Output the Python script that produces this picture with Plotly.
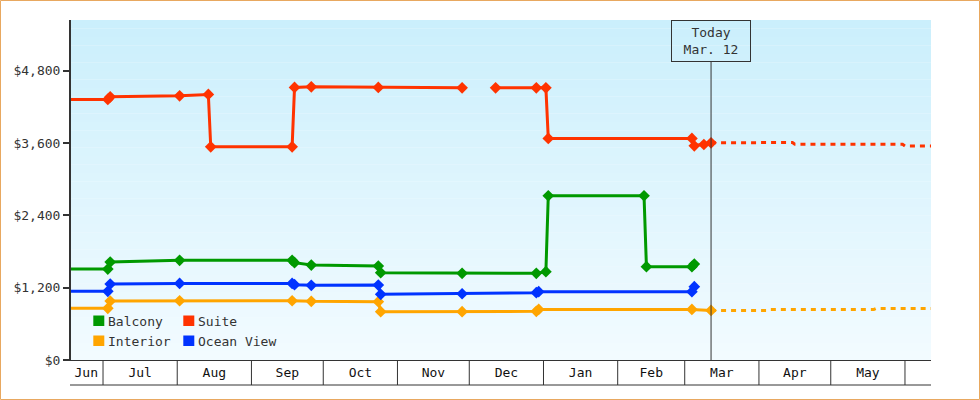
import plotly.graph_objects as go

# ---------------- data ----------------
x_start = "2012-06-17 15:00"
x_end = "2013-06-11 21:00"
y_top = 5640
today = "2013-03-12"

y_ticks = [0, 1200, 2400, 3600, 4800]
y_tick_labels = ["$0", "$1,200", "$2,400", "$3,600", "$4,800"]

month_starts = ["2012-07-01", "2012-08-01", "2012-09-01", "2012-10-01", "2012-11-01",
                "2012-12-01", "2013-01-01", "2013-02-01", "2013-03-01", "2013-04-01",
                "2013-05-01", "2013-06-01"]
month_labels = ["Jun", "Jul", "Aug", "Sep", "Oct", "Nov", "Dec", "Jan", "Feb", "Mar", "Apr", "May"]
month_label_dates = ["2012-06-24", "2012-07-16 12:00", "2012-08-16 12:00", "2012-09-16", "2012-10-16 12:00",
                     "2012-11-16", "2012-12-16 12:00", "2013-01-16 12:00", "2013-02-15", "2013-03-16 12:00",
                     "2013-04-16", "2013-05-16 12:00"]

suite_dates = ["2012-06-17", "2012-07-03", "2012-07-04", "2012-08-02", "2012-08-14", "2012-08-15",
               "2012-09-18", "2012-09-19", "2012-09-26", "2012-10-24", "2012-11-28", "2012-12-05",
               "2012-12-12", "2012-12-29", "2013-01-02", "2013-01-03", "2013-03-04", "2013-03-05",
               "2013-03-09", "2013-03-12"]
suite_prices = [4322, 4322, 4366, 4382, 4405, 3537,
                3537, 4521, 4531, 4521, 4515, None,
                4515, 4515, 4515, 3675, 3675, 3553,
                3575, 3603]

balcony_dates = ["2012-06-17", "2012-07-03", "2012-07-04", "2012-08-02", "2012-09-18", "2012-09-19",
                 "2012-09-26", "2012-10-24", "2012-10-25", "2012-11-28", "2012-12-29", "2013-01-02",
                 "2013-01-03", "2013-02-12", "2013-02-13", "2013-03-04", "2013-03-05"]
balcony_prices = [1509, 1509, 1625, 1653, 1653, 1614,
                  1575, 1559, 1448, 1437, 1437, 1465,
                  2725, 2725, 1548, 1548, 1592]

ocean_dates = ["2012-06-17", "2012-07-03", "2012-07-04", "2012-08-02", "2012-09-18", "2012-09-19",
               "2012-09-26", "2012-10-24", "2012-10-25", "2012-11-28", "2012-12-29", "2012-12-30",
               "2013-03-04", "2013-03-05"]
ocean_prices = [1139, 1139, 1260, 1271, 1271, 1250,
                1238, 1243, 1089, 1099, 1116, 1133,
                1133, 1216]

interior_dates = ["2012-06-17", "2012-07-03", "2012-07-04", "2012-08-02", "2012-09-18", "2012-09-26",
                  "2012-10-24", "2012-10-25", "2012-11-28", "2012-12-29", "2012-12-30", "2013-03-04",
                  "2013-03-12"]
interior_prices = [857, 857, 978, 983, 983, 973,
                   967, 801, 801, 807, 839, 839,
                   822]

suite_fc_dates = ["2013-03-12", "2013-04-15", "2013-04-16", "2013-05-31", "2013-06-01", "2013-06-11 21:00"]
suite_fc_prices = [3603, 3608, 3578, 3578, 3550, 3550]

interior_fc_dates = ["2013-03-12", "2013-04-04", "2013-04-05", "2013-05-19", "2013-05-20", "2013-06-11 21:00"]
interior_fc_prices = [822, 822, 839, 839, 856, 856]

legend_names = ["Balcony", "Suite", "Interior", "Ocean View"]

# ---------------- style ----------------
C_SUITE = "#ff3300"
C_BALC = "#009900"
C_OCEAN = "#0033ff"
C_INT = "#ffa500"
AX = "#333333"
FONT = "DejaVu Sans Mono"
W, H = 980, 400
ML, MR, MT, MB = 71, 49, 20, 40
PW, PH = W - ML - MR, H - MT - MB


def px_x(px):
    return (px - ML) / PW


def px_y(py):
    return (H - MB - py) / PH


fig = go.Figure()


def solid(dates, prices, color):
    fig.add_trace(go.Scatter(
        x=dates, y=prices, mode="lines+markers", connectgaps=False,
        line=dict(color=color, width=3),
        marker=dict(symbol="diamond", size=9, color=color),
        cliponaxis=False, showlegend=False, hoverinfo="x+y"))


def dashed(dates, prices, color):
    fig.add_trace(go.Scatter(
        x=dates, y=prices, mode="lines",
        line=dict(color=color, width=3, dash="5px,5px"),
        cliponaxis=False, showlegend=False, hoverinfo="x+y"))


dashed(suite_fc_dates, suite_fc_prices, C_SUITE)
dashed(interior_fc_dates, interior_fc_prices, C_INT)
solid(interior_dates, interior_prices, C_INT)
solid(ocean_dates, ocean_prices, C_OCEAN)
solid(balcony_dates, balcony_prices, C_BALC)
solid(suite_dates, suite_prices, C_SUITE)

shapes = []
# gradient background
top_rgb = (203, 239, 252)
bot_rgb = (242, 251, 255)
N = 40
for i in range(N):
    t = (i + 0.5) / N
    c = tuple(round(b + (tp - b) * t) for b, tp in zip(bot_rgb, top_rgb))
    shapes.append(dict(type="rect", xref="paper", yref="paper", x0=0, x1=1,
                       y0=i / N, y1=(i + 1) / N, layer="below",
                       fillcolor="rgb(%d,%d,%d)" % c, line=dict(width=0)))

# month separators in the axis band
band_y = px_y(385)
for d in month_starts:
    shapes.append(dict(type="line", xref="x", yref="paper", x0=d, x1=d, y0=0, y1=band_y,
                       line=dict(color=AX, width=1)))
shapes.append(dict(type="line", xref="paper", yref="paper", x0=px_x(70), x1=1,
                   y0=band_y, y1=band_y, line=dict(color=AX, width=1)))

# today line
shapes.append(dict(type="line", xref="x", yref="paper", x0=today, x1=today,
                   y0=0, y1=px_y(61), line=dict(color=AX, width=1)))

# outer border
shapes.append(dict(type="rect", xref="paper", yref="paper",
                   x0=px_x(0.5), x1=px_x(979.5), y0=px_y(399.5), y1=px_y(0.5),
                   line=dict(color="#e8a860", width=1), fillcolor="rgba(0,0,0,0)"))

annotations = [dict(
    x=today, xref="x", y=1, yref="paper", yanchor="top", xanchor="center",
    text="Today<br>Mar. 12", showarrow=False, align="center",
    bordercolor=AX, borderwidth=1, borderpad=4, width=70, height=32,
    font=dict(family=FONT, size=13, color=AX))]

# manual legend
legend_colors = [C_BALC, C_SUITE, C_INT, C_OCEAN]
col_px = [93.3, 183.3]
row_py = [321, 341]
for k, (name, col) in enumerate(zip(legend_names, legend_colors)):
    cx = col_px[k % 2]
    cy = row_py[k // 2]
    shapes.append(dict(type="rect", xref="paper", yref="paper",
                       x0=px_x(cx), x1=px_x(cx + 11), y0=px_y(cy + 5), y1=px_y(cy - 5.5),
                       fillcolor=col, line=dict(width=0)))
    annotations.append(dict(x=px_x(cx + 13), xref="paper", y=px_y(cy), yref="paper",
                            xanchor="left", yanchor="middle", text=name, showarrow=False,
                            font=dict(family=FONT, size=13, color=AX)))

fig.update_layout(
    width=W, height=H,
    margin=dict(l=ML, r=MR, t=MT, b=MB, pad=0),
    paper_bgcolor="white", plot_bgcolor="#f2fbff",
    font=dict(family=FONT, size=13, color=AX),
    shapes=shapes, annotations=annotations, showlegend=False,
    xaxis=dict(type="date", range=[x_start, x_end], showgrid=False, zeroline=False,
               tickmode="array", tickvals=month_label_dates, ticktext=month_labels,
               ticks="", showline=True, linecolor=AX, linewidth=1,
               tickfont=dict(family=FONT, size=13, color="#111")),
    yaxis=dict(range=[0, y_top], showgrid=False, zeroline=False,
               tickmode="array", tickvals=y_ticks, ticktext=y_tick_labels,
               ticks="outside", ticklen=6, tickwidth=2, tickcolor=AX,
               showline=True, linecolor=AX, linewidth=2,
               tickfont=dict(family=FONT, size=13, color=AX)),
)

fig.write_html("out.html")
